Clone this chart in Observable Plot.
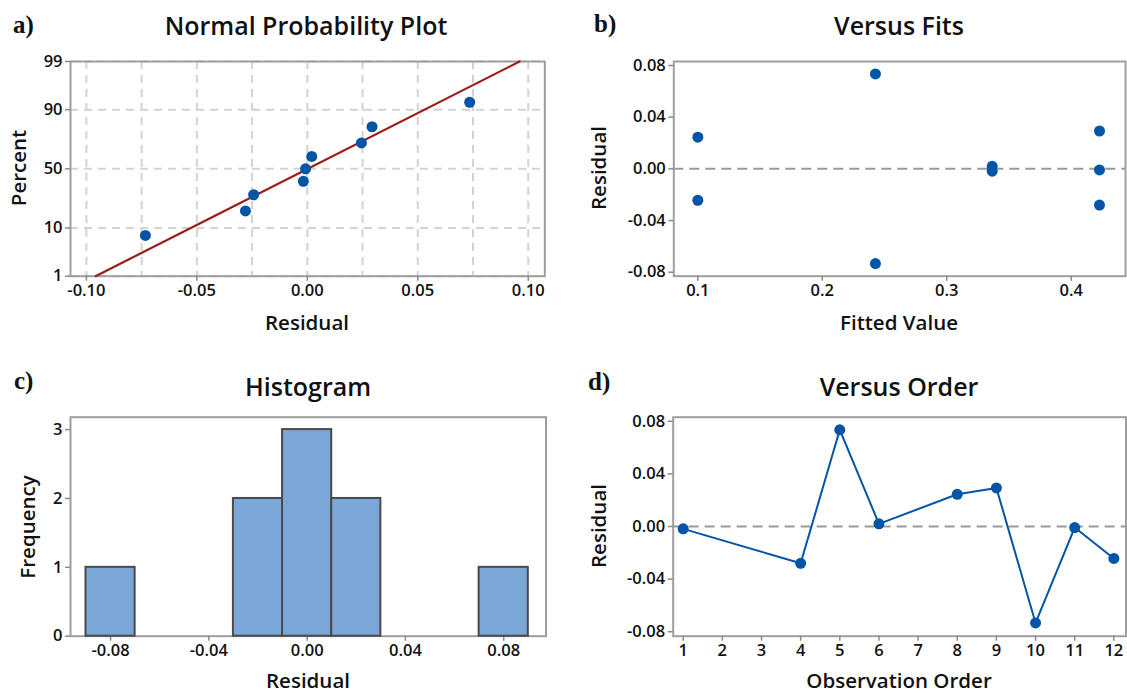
<!DOCTYPE html>
<html>
<head>
<meta charset="utf-8">
<script src="https://cdn.jsdelivr.net/npm/d3@7"></script>
<script src="https://cdn.jsdelivr.net/npm/@observablehq/plot@0.6"></script>
<style>
  html, body { margin: 0; padding: 0; background: #fff; }
  #page { position: relative; width: 1127px; height: 693px; overflow: hidden; background: #fff; }
  #page svg { position: absolute; }
  .lbl { position: absolute; transform: translate(-50%, -50%); white-space: nowrap; line-height: 1;
         font-family: "Open Sans", "Noto Sans", sans-serif; font-weight: 600; color: #111; }
  .title { font-size: 25px; }
  .axis { font-size: 20.5px; }
  .rot { transform: translate(-50%, -50%) rotate(-90deg); }
  .tag { position: absolute; transform: translateY(-50%); line-height: 1;
         font-family: "Liberation Serif", "Times New Roman", serif; font-weight: bold; font-size: 25px; color: #111; }
</style>
</head>
<body>
<div id="page"></div>
<script>
// Residuals by observation (observations 2, 3 and 7 are absent)
const observation = [1, 4, 5, 6, 8, 9, 10, 11, 12];
const residual    = [-0.0018, -0.0280, 0.0735, 0.0020, 0.0245, 0.0293, -0.0733, -0.0008, -0.0243];
const fittedValue = [0.3365, 0.4227, 0.2427, 0.3365, 0.1000, 0.4227, 0.2427, 0.4227, 0.1000];

// Axis ticks
const percentTicks   = [1, 10, 50, 90, 99];
const probResTicks   = [-0.10, -0.05, 0.00, 0.05, 0.10];
const probResGrid    = [-0.10, -0.075, -0.05, -0.025, 0.00, 0.025, 0.05, 0.075, 0.10];
const residTicks     = [-0.08, -0.04, 0.00, 0.04, 0.08];
const fitTicks       = [0.1, 0.2, 0.3, 0.4];
const freqTicks      = [0, 1, 2, 3];
const histEdges      = [-0.09, -0.07, -0.05, -0.03, -0.01, 0.01, 0.03, 0.05, 0.07, 0.09];
const orderTicks     = [1, 2, 3, 4, 5, 6, 7, 8, 9, 10, 11, 12];

// Inverse standard normal CDF (Acklam's rational approximation)
function probit(p) {
  const a = [-3.969683028665376e+01, 2.209460984245205e+02, -2.759285104469687e+02, 1.383577518672690e+02, -3.066479806614716e+01, 2.506628277459239e+00];
  const b = [-5.447609879822406e+01, 1.615858368580409e+02, -1.556989798598866e+02, 6.680131188771972e+01, -1.328068155288572e+01];
  const c = [-7.784894002430293e-03, -3.223964580411365e-01, -2.400758277161838e+00, -2.549732539343734e+00, 4.374664141464968e+00, 2.938163982698783e+00];
  const d = [7.784695709041462e-03, 3.224671290700398e-01, 2.445134137142996e+00, 3.754408661907416e+00];
  const pl = 0.02425;
  if (p < pl) {
    const q = Math.sqrt(-2 * Math.log(p));
    return (((((c[0]*q+c[1])*q+c[2])*q+c[3])*q+c[4])*q+c[5]) / ((((d[0]*q+d[1])*q+d[2])*q+d[3])*q+1);
  }
  if (p > 1 - pl) {
    const q = Math.sqrt(-2 * Math.log(1 - p));
    return -(((((c[0]*q+c[1])*q+c[2])*q+c[3])*q+c[4])*q+c[5]) / ((((d[0]*q+d[1])*q+d[2])*q+d[3])*q+1);
  }
  const q = p - 0.5, r = q * q;
  return (((((a[0]*r+a[1])*r+a[2])*r+a[3])*r+a[4])*r+a[5])*q / (((((b[0]*r+b[1])*r+b[2])*r+b[3])*r+b[4])*r+1);
}

const rows = observation.map((o, i) => ({order: o, resid: residual[i], fit: fittedValue[i]}));

// Normal probability positions (median ranks) and fitted normal line
const sorted = residual.slice().sort((a, b) => a - b);
const n = sorted.length;
const probRows = sorted.map((r, i) => ({resid: r, z: probit((i + 1 - 0.3) / (n + 0.4))}));
const mean = d3.mean(residual), sd = d3.deviation(residual);
const zLo = probit(percentTicks[0] / 100), zHi = probit(percentTicks[percentTicks.length - 1] / 100);
const fitLine = [zLo, zHi].map(z => ({z, resid: mean + sd * z}));

const BLUE = "#0055a6", RED = "#9e1b1b", FRAME = "#9e9e9e", TICK = "#8a8a8a", INK = "#111";
const fmt2 = d => d.toFixed(2);
const font = {fontFamily: '"Open Sans", "Noto Sans", sans-serif', fontSize: "16.5px", fontWeight: 600, background: "transparent", color: INK, overflow: "visible"};
const axisOpts = {tickSize: 5, tickPadding: 3, stroke: TICK, fill: INK, strokeWidth: 1.5, label: null};
const gridStyle = {stroke: "#d3d3d3", strokeOpacity: 1, strokeWidth: 2, strokeDasharray: "8,6"};

const page = document.getElementById("page");
function place(svg, left, top) { svg.style.left = left + "px"; svg.style.top = top + "px"; page.appendChild(svg); }
function label(text, x, y, cls) {
  const el = document.createElement("div");
  el.className = cls; el.textContent = text;
  el.style.left = x + "px"; el.style.top = y + "px";
  page.appendChild(el);
}

// a) Normal probability plot
const plotA = Plot.plot({
  width: 560, height: 345,
  marginLeft: 70, marginRight: 15.7, marginTop: 61, marginBottom: 69.3,
  style: font,
  x: {domain: [-0.1072, 0.1075]},
  y: {domain: [zLo, zHi]},
  marks: [
    Plot.gridX(probResGrid, gridStyle),
    Plot.gridY(percentTicks.map(p => probit(p / 100)), gridStyle),
    Plot.frame({stroke: FRAME, strokeWidth: 2}),
    Plot.axisX({...axisOpts, ticks: probResTicks, tickFormat: fmt2}),
    Plot.axisY({...axisOpts, ticks: percentTicks.map(p => probit(p / 100)), tickFormat: (d, i) => String(percentTicks[i])}),
    Plot.line(fitLine, {x: "resid", y: "z", stroke: RED, strokeWidth: 2.2}),
    Plot.dot(probRows, {x: "resid", y: "z", r: 5.5, fill: BLUE, stroke: null})
  ]
});
place(plotA, 0, 0);

// b) Residuals versus fitted values
const plotB = Plot.plot({
  width: 567, height: 345,
  marginLeft: 113.3, marginRight: 2, marginTop: 61, marginBottom: 69.3,
  style: font,
  x: {domain: [0.0807, 0.4436]},
  y: {domain: [-0.0831, 0.0831]},
  marks: [
    Plot.ruleY([0], {stroke: "#9a9a9a", strokeWidth: 2, strokeDasharray: "10,6"}),
    Plot.frame({stroke: FRAME, strokeWidth: 2}),
    Plot.axisX({...axisOpts, ticks: fitTicks, tickFormat: d => d.toFixed(1)}),
    Plot.axisY({...axisOpts, ticks: residTicks, tickFormat: fmt2}),
    Plot.dot(rows, {x: "fit", y: "resid", r: 5.5, fill: BLUE, stroke: null})
  ]
});
place(plotB, 560, 0);

// c) Histogram of residuals
const plotC = Plot.plot({
  width: 560, height: 348,
  marginLeft: 70, marginRight: 14.5, marginTop: 71.7, marginBottom: 57.3,
  style: font,
  x: {domain: [-0.0963, 0.0972]},
  y: {domain: [0, 3.18]},
  marks: [
    Plot.frame({stroke: FRAME, strokeWidth: 2}),
    Plot.axisX({...axisOpts, ticks: residTicks, tickFormat: fmt2}),
    Plot.axisY({...axisOpts, ticks: freqTicks, tickFormat: d => String(d)}),
    Plot.rectY(rows, Plot.binX({y: "count", filter: null}, {x: "resid", thresholds: histEdges, fill: "#7ba7d8", stroke: "#4a4a4a", strokeWidth: 2, inset: 0}))
  ]
});
place(plotC, 0, 345);

// d) Residuals versus observation order
const plotD = Plot.plot({
  width: 567, height: 348,
  marginLeft: 112.7, marginRight: 1.5, marginTop: 71.7, marginBottom: 57.3,
  style: font,
  x: {domain: [0.745, 12.31]},
  y: {domain: [-0.0834, 0.0831]},
  marks: [
    Plot.ruleY([0], {stroke: "#9a9a9a", strokeWidth: 2, strokeDasharray: "10,6"}),
    Plot.frame({stroke: FRAME, strokeWidth: 2}),
    Plot.axisX({...axisOpts, ticks: orderTicks, tickFormat: d => String(d)}),
    Plot.axisY({...axisOpts, ticks: residTicks, tickFormat: fmt2}),
    Plot.line(rows, {x: "order", y: "resid", stroke: BLUE, strokeWidth: 2}),
    Plot.dot(rows, {x: "order", y: "resid", r: 5.5, fill: BLUE, stroke: null})
  ]
});
place(plotD, 560, 345);

// Panel titles, tags and axis labels
label("Normal Probability Plot", 306, 25, "lbl title");
label("Versus Fits", 899, 25, "lbl title");
label("Histogram", 308, 386, "lbl title");
label("Versus Order", 899, 386, "lbl title");

label("Residual", 307, 322, "lbl axis");
label("Percent", 18, 168, "lbl axis rot");
label("Fitted Value", 899, 322, "lbl axis");
label("Residual", 598, 168, "lbl axis rot");
label("Residual", 308, 680, "lbl axis");
label("Frequency", 27, 527, "lbl axis rot");
label("Observation Order", 899, 680, "lbl axis");
label("Residual", 598, 526, "lbl axis rot");

for (const [t, x, y] of [["a)", 13, 24], ["b)", 594, 23], ["c)", 14, 380], ["d)", 588, 381]]) {
  const el = document.createElement("div");
  el.className = "tag"; el.textContent = t;
  el.style.left = x + "px"; el.style.top = y + "px";
  page.appendChild(el);
}
</script>
</body>
</html>
